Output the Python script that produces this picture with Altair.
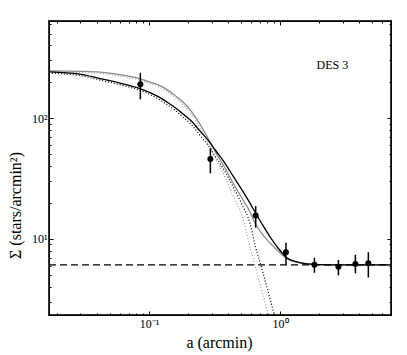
import altair as alt
import pandas as pd

r_obs = [0.0859, 0.294, 0.652, 1.11, 1.83, 2.79, 3.76, 4.72]
sigma_obs = [190, 45.8, 15.6, 7.76, 6.13, 5.88, 6.21, 6.3]
sigma_lo = [143, 34.9, 12.4, 6.1, 5.25, 5.0, 5.2, 4.8]
sigma_hi = [237, 56.3, 18.7, 9.3, 7.0, 6.7, 7.4, 7.77]

r_model = [0.0172, 0.0297, 0.0423, 0.0601, 0.0854, 0.1018, 0.1213, 0.1372,
           0.158, 0.1818, 0.2129, 0.245, 0.2821, 0.3247, 0.3803, 0.4378,
           0.5128, 0.590, 0.6444, 0.7287, 0.839, 0.9654, 1.131, 1.348,
           1.607, 2.408, 4.08, 7.03]
black_solid = [241.3, 231.0, 212.1, 194.7, 175.4, 162.4, 147.7, 135.6,
               122.1, 107.9, 93.2, 78.1, 65.8, 53.4, 42.2, 33.2,
               25.4, 19.8, 16.7, 13.3, 10.4, 8.42, 6.97, 6.45,
               6.21, 6.10, 6.10, 6.10]
gray_solid = [246.0, 243.7, 240.0, 228.8, 212.1, 198.4, 185.6, 172.0,
              153.5, 135.6, 112.1, 89.2, 68.4, 51.4, 38.6, 29.0,
              21.7, 16.7, 13.55, 11.0, 9.27, 7.96, 6.84, 6.39,
              6.21, 6.10, 6.10, 6.10]
black_dotted = [235.2, 224.9, 206.0, 188.6, 169.3, 156.3, 141.6, 129.5,
                116.0, 101.8, 87.1, 72.0, 59.7, 47.3, 36.1, 27.1,
                19.3, 13.4, 8.9, 5.6, 3.2, 1.8]
gray_dotted = [239.9, 237.6, 233.9, 222.7, 206.0, 192.3, 179.5, 165.9,
               147.4, 129.5, 106.0, 83.1, 62.3, 45.3, 32.5, 22.9,
               15.6, 8.6, 6.0, 3.7, 2.1, 1.2]
background = 6.1

x_domain = [0.01725, 7.03]
y_domain = [2.35, 635]
x_major = [0.1, 1.0]
x_minor = [0.02, 0.03, 0.04, 0.05, 0.06, 0.07, 0.08, 0.09,
           0.2, 0.3, 0.4, 0.5, 0.6, 0.7, 0.8, 0.9,
           2, 3, 4, 5, 6, 7]
y_major = [10, 100]
y_minor = [3, 4, 5, 6, 7, 8, 9, 20, 30, 40, 50, 60, 70, 80, 90,
           200, 300, 400, 500, 600]

FONT = "Liberation Serif"
XS = alt.Scale(type="log", domain=x_domain, nice=False)
YS = alt.Scale(type="log", domain=y_domain, nice=False)

curves = pd.DataFrame({"r": r_model, "black": black_solid, "gray": gray_solid})
dots_df = pd.DataFrame({"r": r_model[:len(black_dotted)],
                        "black_d": black_dotted, "gray_d": gray_dotted})
pts = pd.DataFrame({"r": r_obs, "s": sigma_obs, "lo": sigma_lo, "hi": sigma_hi})
bg = pd.DataFrame({"r": x_domain, "s": [background, background]})
lab = pd.DataFrame({"r": [1.9], "s": [274], "t": ["DES 3"]})

# plot frame: the four edges of the axes box (domain corners)
x0, x1 = x_domain
y0, y1 = y_domain
frame = pd.DataFrame({
    "edge": ["b", "b", "t", "t", "l", "l", "r", "r"],
    "k": [0, 1, 0, 1, 0, 1, 0, 1],
    "x": [x0, x1, x0, x1, x0, x0, x1, x1],
    "y": [y0, y0, y1, y1, y0, y1, y0, y1],
})


def tick_axis(orient, values, size, **kw):
    return alt.Axis(orient=orient, values=values, tickSize={"expr": str(-size)},
                    domain=False, grid=False, ticks=True, tickColor="black",
                    tickWidth=1, **kw)


nolab = dict(labels=False)

x_bot_major = tick_axis("bottom", x_major, 4, labels=True, labelFont=FONT,
                        labelFontSize=12, labelColor="black", labelPadding=7,
                        labelExpr="datum.value < 0.5 ? '10⁻¹' : '10⁰'",
                        titleFont=FONT, titleFontSize=16, titleFontWeight="normal",
                        titleColor="black", titleX=170, titleY=27,
                        titleBaseline="middle")
y_left_major = tick_axis("left", y_major, 4, labels=True, labelFont=FONT,
                         labelFontSize=12, labelColor="black", labelPadding=6,
                         labelExpr="datum.value < 50 ? '10¹' : '10²'",
                         titleFont=FONT, titleFontSize=16, titleFontWeight="normal",
                         titleColor="black", titleX=-34, titleY=184,
                         titleBaseline="middle", titleAngle=270)

l_gd = alt.Chart(dots_df).mark_line(color="#9a9a9a", strokeWidth=1.2, strokeDash=[1, 2],
                                    clip=True, interpolate="monotone").encode(
    x=alt.X("r:Q", scale=XS, axis=tick_axis("top", x_minor, 2, **nolab), title=None),
    y=alt.Y("gray_d:Q", scale=YS, axis=tick_axis("right", y_minor, 2, **nolab), title=None))

l_bd = alt.Chart(dots_df).mark_line(color="black", strokeWidth=1.2, strokeDash=[1, 2],
                                    clip=True, interpolate="monotone").encode(
    x=alt.X("r:Q", scale=XS, axis=tick_axis("top", x_major, 4, **nolab), title=None),
    y=alt.Y("black_d:Q", scale=YS, axis=tick_axis("right", y_major, 4, **nolab), title=None))

l_gs = alt.Chart(curves).mark_line(color="#8c8c8c", strokeWidth=1.3, clip=True,
                                   interpolate="monotone").encode(
    x=alt.X("r:Q", scale=XS, axis=tick_axis("bottom", x_minor, 2, **nolab), title=None),
    y=alt.Y("gray:Q", scale=YS, axis=tick_axis("left", y_minor, 2, **nolab), title=None))

l_bs = alt.Chart(curves).mark_line(color="black", strokeWidth=1.3, clip=True,
                                   interpolate="monotone").encode(
    x=alt.X("r:Q", scale=XS, axis=x_bot_major, title="a (arcmin)"),
    y=alt.Y("black:Q", scale=YS, axis=y_left_major, title="Σ (stars/arcmin²)"))

l_bg = alt.Chart(bg).mark_line(color="black", strokeWidth=1.3, strokeDash=[7, 4],
                               clip=True).encode(
    x=alt.X("r:Q", scale=XS, axis=None),
    y=alt.Y("s:Q", scale=YS, axis=None))

l_err = alt.Chart(pts).mark_rule(color="black", strokeWidth=1.5).encode(
    x=alt.X("r:Q", scale=XS, axis=None),
    y=alt.Y("lo:Q", scale=YS, axis=None), y2="hi:Q")

l_pts = alt.Chart(pts).mark_circle(color="black", opacity=1, size=36).encode(
    x=alt.X("r:Q", scale=XS, axis=None),
    y=alt.Y("s:Q", scale=YS, axis=None))

l_txt = alt.Chart(lab).mark_text(font=FONT, fontSize=12, color="black",
                                 align="left", baseline="middle").encode(
    x=alt.X("r:Q", scale=XS, axis=None),
    y=alt.Y("s:Q", scale=YS, axis=None), text="t:N")

l_frame = alt.Chart(frame).mark_line(color="black", strokeWidth=1.4,
                                     strokeCap="square").encode(
    x=alt.X("x:Q", scale=XS, axis=None),
    y=alt.Y("y:Q", scale=YS, axis=None),
    detail="edge:N", order="k:Q")

chart = alt.layer(l_gd, l_bd, l_gs, l_bs, l_bg, l_err, l_pts, l_txt, l_frame).resolve_axis(
    x="independent", y="independent").properties(
    width=342, height=294, background="white",
    padding={"left": 41, "top": 13, "right": 8, "bottom": 40},
    autosize=alt.AutoSizeParams(type="none"),
).configure_view(stroke="black", strokeWidth=1.2)

chart.save("out.html", embed_options={"renderer": "svg", "actions": False})
